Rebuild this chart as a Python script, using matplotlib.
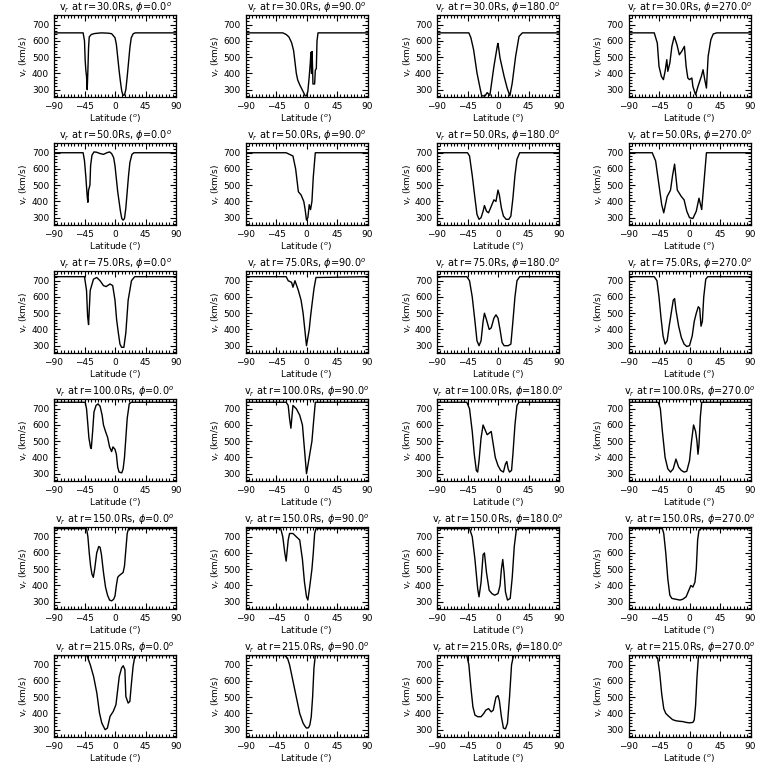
import matplotlib.pyplot as plt
from matplotlib.ticker import AutoMinorLocator

# Radii (rows) and longitudes (columns) of the panels
radii = [30.0, 50.0, 75.0, 100.0, 150.0, 215.0]
phis = [0.0, 90.0, 180.0, 270.0]
xticks = [-90, -45, 0, 45, 90]
yticks = [300, 400, 500, 600, 700]

# r = 30 Rs
lat_30_0 = [-90, -47, -45, -44, -43, -42, -41, -40, -39, -38, -35, -30, -20, -10, -5, 0, 2, 4, 6, 8, 10, 12, 14, 16, 18, 20, 22, 24, 27, 30, 90]
v_30_0 = [650, 650, 600, 480, 420, 380, 300, 420, 560, 625, 640, 646, 650, 648, 645, 620, 580, 500, 420, 350, 290, 265, 268, 300, 380, 470, 560, 620, 645, 650, 650]
lat_30_90 = [-90, -35, -30, -26, -22, -19, -17, -15, -13, -10, -7, -4, -2, 0, 2, 4, 5.5, 6.5, 7.5, 8.2, 9, 9.5, 12, 13, 14.5, 15.5, 17, 90]
v_30_90 = [650, 650, 640, 625, 590, 540, 470, 400, 360, 330, 305, 280, 262, 262, 290, 380, 460, 530, 400, 535, 430, 335, 335, 420, 430, 600, 650, 650]
lat_30_180 = [-90, -43, -40, -36, -31, -26, -24, -19, -16, -12, -6, -1, 0, 3, 9, 13.5, 17.5, 21, 26, 31, 36, 90]
v_30_180 = [650, 650, 620, 546, 403, 300, 262, 262, 282, 265, 444, 570, 585, 495, 382, 310, 262, 341, 505, 628, 650, 650]
lat_30_270 = [-90, -52, -47.5, -45, -41.5, -38.5, -36, -33.5, -32, -29, -26, -22.5, -18.5, -15, -11.5, -7.5, -5, -2.5, 0, 3.5, 5, 9, 12.5, 17.5, 20, 22.5, 25, 27.5, 31.5, 35, 40, 90]
v_30_270 = [650, 650, 587, 444, 382, 362, 413, 485, 413, 464, 567, 628, 577, 515, 536, 567, 444, 372, 362, 372, 320, 268, 320, 382, 423, 362, 310, 505, 608, 643, 650, 650]

# r = 50 Rs
lat_50_0 = [-90, -47, -45, -43, -41, -40, -39, -37, -36, -34, -31, -27, -22, -17, -12, -8, -5, -2, 0, 2, 4, 6, 8, 10, 12, 14, 16, 18, 20, 22, 25, 28, 90]
v_50_0 = [700, 700, 650, 550, 430, 395, 470, 500, 620, 685, 705, 703, 695, 690, 700, 705, 695, 670, 620, 540, 460, 400, 340, 295, 285, 295, 360, 460, 560, 640, 690, 700, 700]
lat_50_90 = [-90, -30, -25, -20, -16, -12, -8, -4, -2, 0, 2, 4, 6, 8, 10, 13, 90]
v_50_90 = [700, 700, 690, 680, 600, 460, 440, 400, 350, 285, 300, 380, 350, 400, 550, 700, 700]
lat_50_180 = [-90, -45, -42, -38, -34, -31, -28, -25, -22, -20, -17, -14, -10, -6, -3, 0, 2, 5, 8, 12, 16, 19, 22, 25, 28, 32, 90]
v_50_180 = [700, 700, 680, 560, 420, 320, 290, 300, 340, 375, 340, 330, 370, 410, 400, 470, 440, 360, 310, 290, 290, 310, 420, 560, 660, 700, 700]
lat_50_270 = [-90, -55, -50, -45, -41, -38, -33, -28, -25, -22, -18, -12, -8, -4, 0, 5, 10, 14, 18, 21, 25, 90]
v_50_270 = [700, 700, 650, 500, 380, 330, 430, 470, 560, 630, 470, 430, 410, 340, 300, 295, 340, 420, 350, 500, 700, 700]

# r = 75 Rs
lat_75_0 = [-90, -45, -42, -40.4, -39, -36.6, -31.7, -26.9, -22, -17, -13.2, -7.3, -3.4, 0, 2.4, 4.9, 7.3, 9.7, 13.1, 16, 19.4, 24.3, 29, 90]
v_75_0 = [725, 725, 640, 480, 430, 640, 710, 720, 700, 670, 664, 680, 670, 580, 460, 380, 310, 290, 290, 380, 580, 700, 725, 725]
lat_75_90 = [-90, -30, -27, -22, -20, -17, -12, -8, -5, -2, 0, 4, 6, 8, 11, 14, 90]
v_75_90 = [725, 725, 700, 690, 660, 700, 640, 580, 500, 380, 300, 400, 480, 550, 650, 720, 725]
lat_75_180 = [-90, -46, -42, -38, -34, -31, -28, -25, -22, -20, -17, -13, -10, -6, -3, 0, 3, 6, 9, 15, 19, 22, 25, 28, 32, 90]
v_75_180 = [725, 725, 700, 600, 450, 330, 300, 330, 450, 500, 460, 400, 410, 470, 490, 470, 400, 320, 300, 300, 310, 450, 600, 700, 725, 725]
lat_75_270 = [-90, -52, -48, -45, -42, -39, -36, -33, -30, -27, -24, -22, -20, -16, -12, -8, -4, 0, 4, 7, 10, 13, 15, 17, 19, 21, 24, 27, 90]
v_75_270 = [725, 725, 700, 600, 470, 360, 310, 330, 420, 500, 580, 590, 520, 420, 350, 310, 295, 300, 360, 450, 500, 540, 530, 420, 450, 600, 710, 725, 725]

# r = 100 Rs
lat_100_0 = [-90, -44, -42, -40, -38.5, -36, -35, -33, -31, -28, -25, -22, -19, -17, -14, -11, -8, -5, -3, 0, 2, 4, 6, 10, 12, 14, 16, 18, 21, 24, 90]
v_100_0 = [740, 740, 700, 600, 520, 460, 455, 560, 680, 720, 730, 715, 660, 600, 560, 525, 465, 436, 465, 450, 420, 340, 310, 305, 330, 400, 520, 640, 730, 740, 740]
lat_100_90 = [-90, -30, -27, -25, -23, -20, -15, -10, -6, -3, 0, 4, 8, 10, 13, 90]
v_100_90 = [740, 740, 720, 640, 580, 720, 700, 660, 600, 450, 300, 400, 500, 600, 740, 740]
lat_100_180 = [-90, -46, -42, -38, -35, -32, -30, -28, -25, -22, -19, -16, -13, -10, -7, -4, 0, 4, 8, 11, 13, 15, 17, 20, 22, 25, 28, 31, 90]
v_100_180 = [740, 740, 700, 560, 420, 320, 310, 380, 520, 600, 570, 540, 550, 560, 480, 400, 350, 320, 310, 360, 375, 330, 310, 320, 420, 600, 720, 740, 740]
lat_100_270 = [-90, -46, -43, -40, -36, -32, -28, -24, -20, -16, -12, -8, -4, 0, 3, 6, 9, 11, 12.5, 14, 16, 18, 90]
v_100_270 = [740, 740, 700, 560, 400, 330, 310, 330, 390, 340, 320, 310, 315, 380, 500, 600, 560, 500, 420, 480, 650, 740, 740]

# r = 150 Rs
lat_150_0 = [-90, -42, -40, -38, -36, -34, -32, -30, -27, -24, -22, -20, -17, -14, -11, -8, -5, -2, 0, 2, 4, 6, 9, 12, 14, 16, 18, 20, 90]
v_150_0 = [750, 750, 700, 600, 520, 470, 450, 500, 600, 640, 635, 590, 480, 390, 340, 310, 305, 315, 335, 400, 450, 460, 470, 480, 520, 620, 720, 750, 750]
lat_150_90 = [-90, -38, -35, -32, -30, -27, -25, -20, -15, -10, -6, -3, 0, 2, 5, 8, 10, 12, 14, 90]
v_150_90 = [750, 750, 700, 600, 550, 680, 720, 720, 700, 680, 560, 420, 330, 310, 400, 500, 600, 720, 750, 750]
lat_150_180 = [-90, -42, -38, -34, -30, -28, -25, -22, -20, -17, -13, -9, -5, 0, 3, 5, 7, 9, 11, 14, 18, 21, 24, 27, 30, 90]
v_150_180 = [750, 750, 700, 560, 380, 330, 420, 590, 600, 480, 370, 350, 340, 350, 400, 500, 560, 480, 360, 310, 320, 450, 640, 740, 750, 750]
lat_150_270 = [-90, -40, -38, -35, -32, -29, -26, -20, -14, -10, -5, 0, 2, 5, 8, 10, 12, 14, 16, 90]
v_150_270 = [750, 750, 720, 600, 440, 340, 320, 315, 310, 315, 330, 380, 400, 390, 420, 500, 680, 740, 750, 750]

# r = 215 Rs
lat_215_0 = [-90, -41.4, -36.5, -31.6, -26.8, -22.9, -19.5, -14.6, -11.2, -7.3, -2.5, 1.4, 3.4, 6.3, 9.7, 12.1, 14.6, 16, 19.4, 21.9, 24.3, 26.7, 29.2, 31.6, 90]
v_215_0 = [757, 757, 700, 628, 526, 403, 341, 300, 310, 382, 413, 454, 526, 628, 680, 694, 670, 505, 464, 474, 587, 690, 751, 757, 757]
lat_215_90 = [-90, -32, -28, -25, -20, -15, -10, -5, -2, 0, 3, 5, 7, 9, 11, 13, 90]
v_215_90 = [757, 757, 740, 700, 600, 500, 400, 340, 320, 310, 312, 330, 380, 500, 680, 757, 757]
lat_215_180 = [-90, -46, -43, -40, -37, -34, -30, -25, -21, -18, -14, -10, -7, -3, 0, 2, 5, 8, 11, 14, 17, 20, 23, 90]
v_215_180 = [757, 757, 700, 560, 440, 390, 380, 380, 400, 420, 430, 410, 420, 500, 510, 480, 380, 310, 305, 340, 500, 700, 757, 757]
lat_215_270 = [-90, -50, -47, -44, -41, -38, -35, -30, -25, -20, -15, -10, -5, 0, 5, 7, 9, 11, 13, 14, 90]
v_215_270 = [757, 757, 740, 650, 520, 430, 400, 380, 362, 355, 352, 350, 345, 342, 345, 360, 450, 620, 740, 757, 757]

lats = [[lat_30_0, lat_30_90, lat_30_180, lat_30_270],
        [lat_50_0, lat_50_90, lat_50_180, lat_50_270],
        [lat_75_0, lat_75_90, lat_75_180, lat_75_270],
        [lat_100_0, lat_100_90, lat_100_180, lat_100_270],
        [lat_150_0, lat_150_90, lat_150_180, lat_150_270],
        [lat_215_0, lat_215_90, lat_215_180, lat_215_270]]
vels = [[v_30_0, v_30_90, v_30_180, v_30_270],
        [v_50_0, v_50_90, v_50_180, v_50_270],
        [v_75_0, v_75_90, v_75_180, v_75_270],
        [v_100_0, v_100_90, v_100_180, v_100_270],
        [v_150_0, v_150_90, v_150_180, v_150_270],
        [v_215_0, v_215_90, v_215_180, v_215_270]]

W = 768.0
fig = plt.figure(figsize=(7.68, 7.68), dpi=100)

for i, r in enumerate(radii):
    for j, phi in enumerate(phis):
        # panel position in pixels
        left = 54 + 191.5 * j
        top = 15 + 128 * i
        ax = fig.add_axes([left / W, 1 - (top + 82) / W, 122 / W, 82 / W])
        ax.plot(lats[i][j], vels[i][j], color='black', lw=1.0)
        ax.set_xlim(-90, 90)
        ax.set_ylim(255, 760)
        ax.set_xticks(xticks)
        ax.set_yticks(yticks)
        ax.xaxis.set_minor_locator(AutoMinorLocator(9))
        ax.yaxis.set_minor_locator(AutoMinorLocator(5))
        ax.tick_params(which='both', direction='in', top=True, right=True,
                       labelsize=6.5, width=0.8)
        ax.tick_params(which='major', length=4)
        ax.tick_params(which='minor', length=2)
        for s in ax.spines.values():
            s.set_linewidth(0.9)
        ax.set_title(r'v$_r$ at r=%.1fRs, $\phi$=%.1f$^o$' % (r, phi),
                     fontsize=7, pad=2)
        ax.set_xlabel(r'Latitude ($^o$)', fontsize=6.5, labelpad=1)
        ax.set_ylabel(r'v$_r$ (km/s)', fontsize=6.5, labelpad=1)

fig.savefig('out.png', dpi=100, facecolor='white')
